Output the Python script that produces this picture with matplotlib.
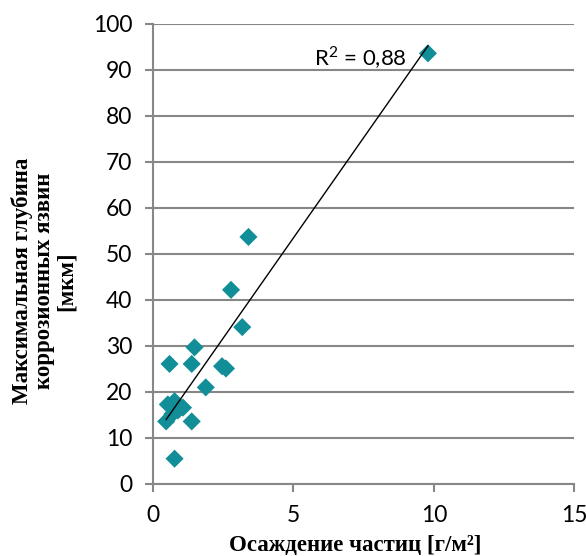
import numpy as np
import matplotlib
matplotlib.use("Agg")
import matplotlib.pyplot as plt

plt.rcParams['mathtext.fontset'] = 'custom'
plt.rcParams['mathtext.rm'] = 'Lato'

# осаждение частиц [г/м2] и максимальная глубина язвин [мкм]
deposition = [9.79, 3.40, 2.78, 3.18, 1.48, 0.59, 1.38, 2.46, 2.60, 1.88,
              0.53, 0.77, 0.89, 1.07, 0.69, 0.47, 1.38, 0.77]
depth = [93.6, 53.7, 42.2, 34.1, 29.7, 26.1, 26.1, 25.6, 25.1, 21.0,
         17.3, 18.0, 16.0, 16.6, 15.2, 13.6, 13.6, 5.5]
r2_label = "R$^{2}$ = 0,88"
xticks = [0, 5, 10, 15]
yticks = list(range(0, 101, 10))

x = np.array(deposition)
y = np.array(depth)
k, b = np.polyfit(x, y, 1)
xs = np.array([x.min(), x.max()])

fig = plt.figure(figsize=(5.86, 5.56), dpi=100)
ax = fig.add_axes([0.261, 0.1295, 0.719, 0.8275])

grid_col = '#878787'
ax.set_xlim(0, 15)
ax.set_ylim(0, 100)
ax.set_xticks(xticks)
ax.set_yticks(yticks)
ax.yaxis.grid(True, color=grid_col, linewidth=1.5)
ax.set_axisbelow(True)
for s in ['top', 'right']:
    ax.spines[s].set_visible(False)
for s in ['left', 'bottom']:
    ax.spines[s].set_color(grid_col)
    ax.spines[s].set_linewidth(1.5)
ax.tick_params(direction='out', length=6, width=1.5, color=grid_col,
               labelsize=16.5, pad=9)
for lab in ax.get_xticklabels() + ax.get_yticklabels():
    lab.set_family('Lato')

ax.scatter(x, y, marker='D', s=85, color='#118E97', edgecolors='none',
           zorder=3, clip_on=False)
ax.plot(xs, k * xs + b, color='black', linewidth=1.0, zorder=4)

ax.text(7.4, 92.6, r2_label, fontsize=16, family='Lato',
        ha='center', va='center')

ax.set_xlabel("Осаждение частиц [г/м²]", family='Liberation Serif',
              fontweight='bold', fontsize=16.5)
ax.xaxis.set_label_coords(0.48, -0.11)
ax.set_ylabel("Максимальная глубина\nкоррозионных язвин\n[мкм]",
              family='Liberation Serif', fontweight='bold', fontsize=16.5,
              linespacing=1.05, ha='center', va='center')
ax.yaxis.set_label_coords(-0.259, 0.441)

fig.savefig("out.png", dpi=100)
